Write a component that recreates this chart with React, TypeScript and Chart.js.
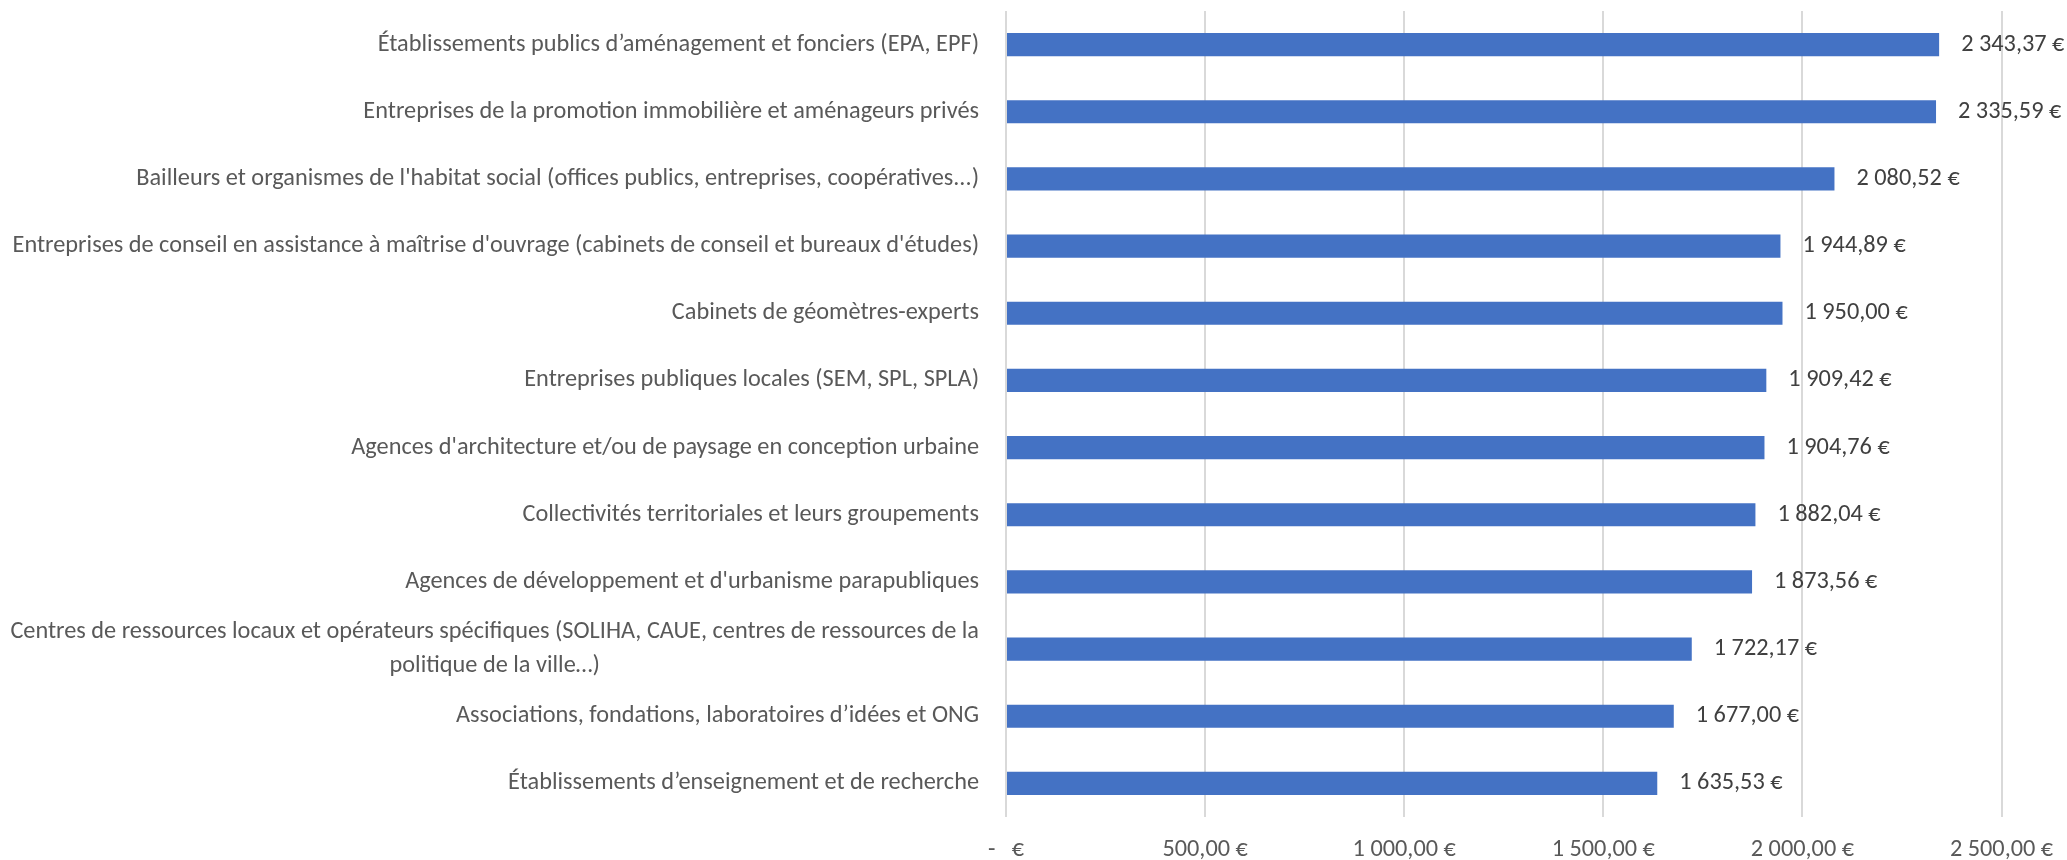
import React, { useEffect, useRef } from "react";
import { Chart, registerables } from "chart.js";

Chart.register(...registerables);

const categories: string[][] = [
  ["Établissements publics d’aménagement et fonciers (EPA, EPF)"],
  ["Entreprises de la promotion immobilière et aménageurs privés"],
  ["Bailleurs et organismes de l'habitat social (offices publics, entreprises, coopératives...)"],
  ["Entreprises de conseil en assistance à maîtrise d'ouvrage (cabinets de conseil et bureaux d'études)"],
  ["Cabinets de géomètres-experts"],
  ["Entreprises publiques locales (SEM, SPL, SPLA)"],
  ["Agences d'architecture et/ou de paysage en conception urbaine"],
  ["Collectivités territoriales et leurs groupements"],
  ["Agences de développement et d'urbanisme parapubliques"],
  [
    "Centres de ressources locaux et opérateurs spécifiques (SOLIHA, CAUE, centres de ressources de la",
    "politique de la ville…)",
  ],
  ["Associations, fondations, laboratoires d’idées et ONG"],
  ["Établissements d’enseignement et de recherche"],
];

const values: number[] = [
  2343.37, 2335.59, 2080.52, 1944.89, 1950.0, 1909.42, 1904.76, 1882.04, 1873.56, 1722.17, 1677.0, 1635.53,
];

const xTickValues: number[] = [0, 500, 1000, 1500, 2000, 2500];
const xTickLabels: string[] = ["-   €", "500,00 €", "1 000,00 €", "1 500,00 €", "2 000,00 €", "2 500,00 €"];

const FONT = "Carlito, Lato, sans-serif";
const FONT_SIZE = 24.3;

function formatEuro(v: number): string {
  const [intPart, dec] = v.toFixed(2).split(".");
  const withSpaces = intPart.replace(/\B(?=(\d{3})+(?!\d))/g, " ");
  return `${withSpaces},${dec} €`;
}

const labelsPlugin = {
  id: "customLabels",
  afterDatasetsDraw(chart: any) {
    const ctx = chart.ctx as CanvasRenderingContext2D;
    const meta = chart.getDatasetMeta(0);
    const yScale = chart.scales.y;
    const area = chart.chartArea;
    ctx.save();
    ctx.font = `${FONT_SIZE}px ${FONT}`;
    ctx.textBaseline = "middle";
    // data labels
    ctx.fillStyle = "#404040";
    ctx.textAlign = "left";
    meta.data.forEach((bar: any, i: number) => {
      ctx.fillText(formatEuro(values[i]), bar.x + 22, bar.y);
    });
    // category labels
    ctx.fillStyle = "#595959";
    const right = area.left - 27;
    const lineH = 34;
    categories.forEach((lines, i) => {
      const cy = yScale.getPixelForValue(i);
      const widths = lines.map((l) => ctx.measureText(l).width);
      const maxW = Math.max(...widths);
      const center = right - maxW / 2;
      ctx.textAlign = "center";
      lines.forEach((l, j) => {
        const y = cy + (j - (lines.length - 1) / 2) * lineH;
        ctx.fillText(l, center, y);
      });
    });
    ctx.restore();
  },
};

export default function App() {
  const ref = useRef<HTMLCanvasElement | null>(null);
  useEffect(() => {
    document.body.style.margin = "0";
    const canvas = ref.current;
    if (!canvas) return;
    const chart = new Chart(canvas, {
      type: "bar",
      data: {
        labels: categories.map((c) => c.join(" ")),
        datasets: [
          {
            data: values,
            backgroundColor: "#4472C4",
            borderWidth: 0,
            categoryPercentage: 1,
            barPercentage: 0.345,
          },
        ],
      },
      options: {
        indexAxis: "y",
        animation: false,
        responsive: false,
        maintainAspectRatio: false,
        devicePixelRatio: 1,
        layout: { padding: { left: 1006, right: 65.5, top: 11, bottom: 0 } },
        plugins: { legend: { display: false }, tooltip: { enabled: false } },
        scales: {
          y: { display: false },
          x: {
            min: 0,
            max: 2500,
            afterBuildTicks(scale: any) {
              scale.ticks = xTickValues.map((v) => ({ value: v }));
            },
            afterFit(scale: any) {
              scale.height = 43;
              scale.paddingLeft = 0;
              scale.paddingRight = 0;
            },
            border: { display: false },
            grid: { color: "#d9d9d9", lineWidth: 2, drawTicks: false },
            ticks: {
              padding: 18,
              color: "#595959",
              font: { family: FONT, size: FONT_SIZE },
              maxRotation: 0,
              autoSkip: false,
              callback: (_v: any, i: number) => xTickLabels[i],
            },
          },
        },
      },
      plugins: [labelsPlugin],
    });
    return () => chart.destroy();
  }, []);
  return (
    <div style={{ width: 2067, height: 860 }}>
      <canvas ref={ref} width={2067} height={860} style={{ display: "block" }} />
    </div>
  );
}
